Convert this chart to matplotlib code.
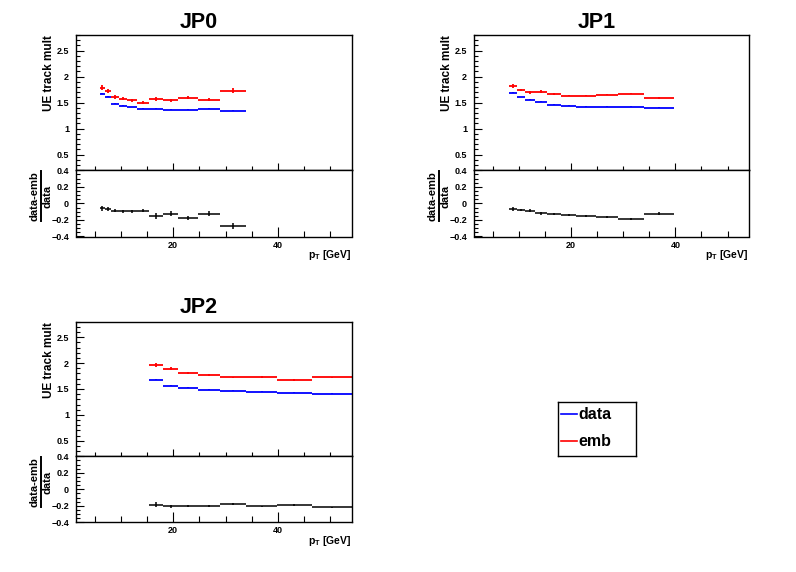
import numpy as np
import matplotlib
matplotlib.use("Agg")
import matplotlib.pyplot as plt
from matplotlib.ticker import MultipleLocator, FixedLocator
from matplotlib.lines import Line2D

plt.rcParams['font.family'] = ['Liberation Sans', 'DejaVu Sans']
plt.rcParams['font.weight'] = 'bold'
plt.rcParams['mathtext.fontset'] = 'custom'
plt.rcParams['mathtext.rm'] = 'Liberation Sans:bold'
plt.rcParams['mathtext.bf'] = 'Liberation Sans:bold'
plt.rcParams['mathtext.it'] = 'Liberation Sans:bold'
plt.rcParams['axes.unicode_minus'] = True

# ---------------- data ----------------
bin_edges = [5.9, 6.95, 8.15, 9.55, 11.2, 13.15, 15.3, 18.1, 21.0, 24.8, 29.0, 34.0, 39.8, 46.5, 54.4]

# JP0 : bins 0..10
jp0_first_bin = 0
jp0_data = [1.673, 1.615, 1.480, 1.442, 1.416, 1.385, 1.385, 1.365, 1.365, 1.385, 1.346]
jp0_data_err = [0.012, 0.010, 0.010, 0.008, 0.008, 0.008, 0.010, 0.008, 0.008, 0.010, 0.012]
jp0_emb = [1.788, 1.717, 1.610, 1.577, 1.544, 1.500, 1.570, 1.544, 1.596, 1.558, 1.730]
jp0_emb_err = [0.050, 0.040, 0.032, 0.025, 0.025, 0.030, 0.040, 0.035, 0.030, 0.030, 0.045]
jp0_ratio = [-0.060, -0.065, -0.089, -0.097, -0.097, -0.089, -0.154, -0.125, -0.178, -0.125, -0.275]
jp0_ratio_err = [0.028, 0.025, 0.020, 0.018, 0.018, 0.020, 0.035, 0.030, 0.025, 0.028, 0.040]

# JP1 : bins 2..11
jp1_first_bin = 2
jp1_data = [1.692, 1.608, 1.558, 1.519, 1.462, 1.442, 1.423, 1.423, 1.423, 1.404]
jp1_data_err = [0.008, 0.006, 0.006, 0.006, 0.006, 0.006, 0.006, 0.006, 0.006, 0.008]
jp1_emb = [1.813, 1.737, 1.698, 1.710, 1.673, 1.635, 1.635, 1.654, 1.673, 1.590]
jp1_emb_err = [0.040, 0.022, 0.025, 0.025, 0.018, 0.012, 0.012, 0.012, 0.015, 0.025]
jp1_ratio = [-0.065, -0.077, -0.089, -0.121, -0.133, -0.137, -0.149, -0.161, -0.186, -0.125]
jp1_ratio_err = [0.022, 0.015, 0.018, 0.015, 0.012, 0.010, 0.010, 0.010, 0.010, 0.020]

# JP2 : bins 6..13
jp2_first_bin = 6
jp2_data = [1.679, 1.564, 1.526, 1.487, 1.468, 1.449, 1.429, 1.410]
jp2_data_err = [0.006, 0.006, 0.005, 0.005, 0.005, 0.005, 0.005, 0.005]
jp2_emb = [1.968, 1.891, 1.814, 1.776, 1.724, 1.737, 1.679, 1.724]
jp2_emb_err = [0.040, 0.025, 0.018, 0.018, 0.015, 0.015, 0.015, 0.015]
jp2_ratio = [-0.188, -0.208, -0.200, -0.200, -0.176, -0.208, -0.188, -0.220]
jp2_ratio_err = [0.028, 0.018, 0.012, 0.012, 0.010, 0.010, 0.010, 0.010]

titles = ["JP0", "JP1", "JP2"]
legend_labels = ["data", "emb"]
main_yticks = [0.5, 1, 1.5, 2, 2.5]
main_yticklabels = ["0.5", "1", "1.5", "2", "2.5"]
ratio_yticks = [-0.4, -0.2, 0, 0.2, 0.4]
ratio_yticklabels = ["\u22120.4", "\u22120.2", "0", "0.2", "0.4"]
xticks = [20, 40]
ratio_num = "data-emb"
ratio_den = "data"

# ---------------- layout ----------------
W, H = 796, 572
fig = plt.figure(figsize=(W / 100, H / 100), dpi=100)


def rect(x0, x1, y0, y1):
    return [x0 / W, 1 - y1 / H, (x1 - x0) / W, (y1 - y0) / H]


BLUE = (0, 0, 1)
RED = (1, 0, 0)
frac_parts = []


def style_axis(ax):
    for s in ax.spines.values():
        s.set_linewidth(1.0)
    ax.tick_params(which='both', direction='in', top=False, right=False, width=0.8)
    ax.tick_params(which='major', length=6)
    ax.tick_params(which='minor', length=3)
    ax.set_xlim(1.4, 54.2)
    ax.xaxis.set_major_locator(FixedLocator(xticks))
    ax.xaxis.set_minor_locator(MultipleLocator(5))


def panel(x0, x1, ytop, ysplit, ybot, first_bin, data, data_err, emb, emb_err,
          ratio, ratio_err, title, pad_center, title_y):
    n = len(data)
    e = np.array(bin_edges[first_bin:first_bin + n + 1])
    c = 0.5 * (e[:-1] + e[1:])
    hw = 0.5 * (e[1:] - e[:-1])

    ax = fig.add_axes(rect(x0, x1, ytop, ysplit))
    style_axis(ax)
    ax.errorbar(c, data, xerr=hw, yerr=data_err, fmt='none', ecolor=BLUE,
                elinewidth=1.3, capsize=0)
    ax.errorbar(c, emb, xerr=hw, yerr=emb_err, fmt='none', ecolor=RED,
                elinewidth=1.3, capsize=0)
    ax.set_ylim(0.2, 2.8)
    ax.set_yticks(main_yticks)
    ax.set_yticklabels(main_yticklabels)
    ax.yaxis.set_minor_locator(MultipleLocator(0.1))
    ax.tick_params(axis='y', labelsize=6.5, pad=5)
    ax.tick_params(axis='x', labelbottom=False)
    ax.tick_params(axis='x', which='major', length=5)
    ax.tick_params(axis='x', which='minor', length=3)

    axr = fig.add_axes(rect(x0, x1, ysplit, ybot))
    style_axis(axr)
    axr.errorbar(c, ratio, xerr=hw, yerr=ratio_err, fmt='none', ecolor='black',
                 elinewidth=1.1, capsize=0)
    axr.set_ylim(-0.4, 0.4)
    axr.set_yticks(ratio_yticks)
    axr.set_yticklabels(ratio_yticklabels)
    axr.yaxis.set_minor_locator(MultipleLocator(0.05))
    axr.tick_params(axis='both', labelsize=6.5)
    axr.tick_params(axis='y', pad=5)
    axr.tick_params(axis='x', pad=3)
    axr.tick_params(axis='x', which='major', length=7)
    axr.tick_params(axis='x', which='minor', length=4)

    # title
    fig.text(pad_center / W, 1 - title_y / H, title, ha='center', va='center',
             fontsize=15.5, fontweight='bold')
    # y label main
    fig.text((x0 - 27) / W, 1 - (ytop) / H, "UE track mult", rotation=90,
             ha='center', va='top', fontsize=8.5, fontweight='bold')
    # ratio y label as a fraction
    tn = fig.text((x0 - 41) / W, 1 - (ysplit + 1) / H, ratio_num, rotation=90,
                  ha='center', va='top', fontsize=8, fontweight='bold')
    frac_parts.append((tn, x0, ysplit))
    # x label
    fig.text((x1 - 1) / W, 1 - (ybot + 19) / H, r"p$_{\mathrm{T}}$ [GeV]",
             ha='right', va='center', fontsize=7.5, fontweight='bold')
    return ax, axr


panel(76, 352, 35, 170.3, 236.5, jp0_first_bin, jp0_data, jp0_data_err, jp0_emb,
      jp0_emb_err, jp0_ratio, jp0_ratio_err, titles[0], 199, 22.5)
panel(474, 749.5, 35, 170.3, 236.5, jp1_first_bin, jp1_data, jp1_data_err, jp1_emb,
      jp1_emb_err, jp1_ratio, jp1_ratio_err, titles[1], 597, 22.5)
panel(76, 352, 321.7, 456.3, 522.3, jp2_first_bin, jp2_data, jp2_data_err, jp2_emb,
      jp2_emb_err, jp2_ratio, jp2_ratio_err, titles[2], 199, 307.5)

# complete the fractions: bar + denominator
fig.canvas.draw()
renderer = fig.canvas.get_renderer()
for tn, x0, ysplit in frac_parts:
    bb = tn.get_window_extent(renderer)
    ytop_px = bb.y1
    ybot_px = bb.y0
    ymid = 0.5 * (ytop_px + ybot_px)
    xbar = (x0 - 35.5)
    fig.add_artist(Line2D([xbar / W, xbar / W], [ybot_px / H, ytop_px / H],
                          transform=fig.transFigure, color='black', lw=1.4))
    fig.text((x0 - 28.5) / W, ymid / H, ratio_den, rotation=90,
             ha='center', va='center', fontsize=8, fontweight='bold')

# legend
lx0, lx1, ly0, ly1 = 558, 636, 401.7, 456
lax = fig.add_axes(rect(lx0, lx1, ly0, ly1))
lax.set_xlim(lx0, lx1)
lax.set_ylim(ly1, ly0)
lax.set_xticks([])
lax.set_yticks([])
for s in lax.spines.values():
    s.set_linewidth(1.0)
for lab, col, yy in zip(legend_labels, [BLUE, RED], [414.3, 441.5]):
    lax.plot([561, 577], [yy, yy], color=col, lw=1.2)
    lax.text(578, yy, lab, ha='left', va='center', fontsize=11.5, fontweight='bold')

fig.savefig("out.png", dpi=100)
